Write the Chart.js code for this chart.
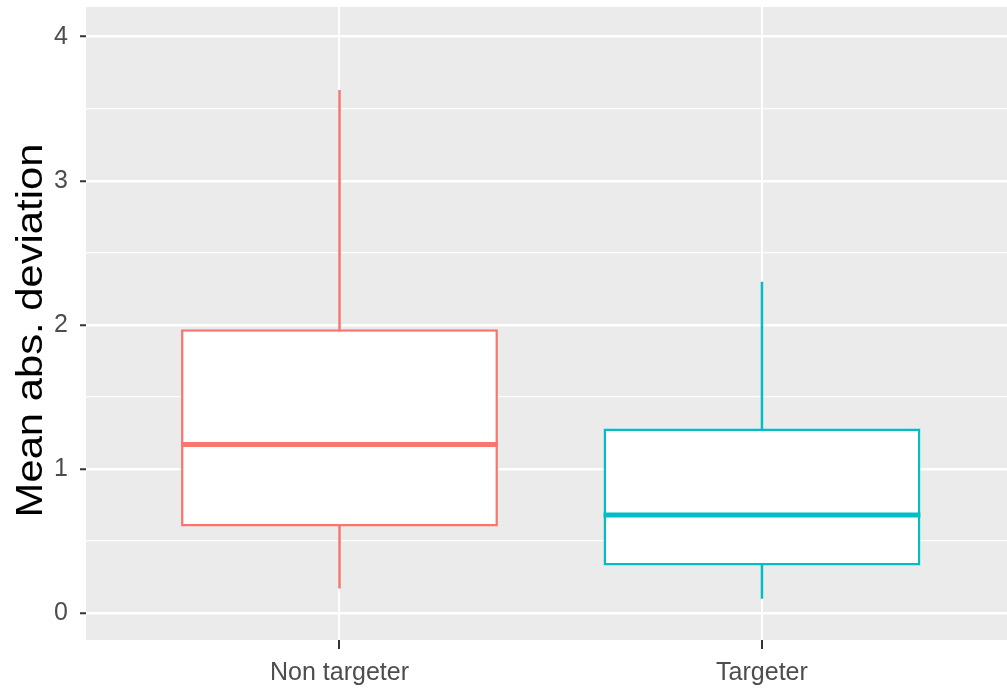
<!DOCTYPE html>
<html>
<head>
<meta charset="utf-8">
<script src="https://cdn.jsdelivr.net/npm/chart.js@4.4.1/dist/chart.umd.min.js"></script>
<style>
  html, body { margin: 0; padding: 0; background: #ffffff; }
  #wrap { width: 1007px; height: 692px; }
</style>
</head>
<body>
<div id="wrap"><canvas id="boxChart"></canvas></div>
<script>
// data
const categories = ['Non targeter', 'Targeter'];
const whiskerLow = [0.17, 0.10];
const q1 = [0.60, 0.33];
const median = [1.17, 0.68];
const q3 = [1.97, 1.28];
const whiskerHigh = [3.63, 2.30];
const yTicks = [0, 0.5, 1, 1.5, 2, 2.5, 3, 3.5, 4];
const yTitle = 'Mean abs. deviation';

const colors = ['#F8766D', '#00BFC4'];
const BOX_WIDTH = 0.75;

const positions = categories.map((c, i) => i + 1);
const datasets = [];

categories.forEach((cat, i) => {
    const x = positions[i];
    // whisker (drawn underneath the box)
    datasets.push({
        type: 'line',
        data: [{ x: x, y: whiskerLow[i] }, { x: x, y: whiskerHigh[i] }],
        borderColor: colors[i],
        borderWidth: 2.5,
        pointRadius: 0,
        order: 3
    });
    // median line
    datasets.push({
        type: 'line',
        data: [{ x: x - BOX_WIDTH / 2, y: median[i] }, { x: x + BOX_WIDTH / 2, y: median[i] }],
        borderColor: colors[i],
        borderWidth: 5,
        pointRadius: 0,
        order: 0
    });
});

// boxes
datasets.push({
    type: 'bar',
    data: positions.map((x, i) => ({ x: x, y: [q1[i], q3[i]] })),
    backgroundColor: '#ffffff',
    borderColor: colors,
    borderWidth: 2.5,
    borderSkipped: false,
    barPercentage: BOX_WIDTH,
    categoryPercentage: 1,
    order: 1
});

const panelBg = {
    id: 'panelBg',
    beforeDraw(chart) {
        const { ctx, chartArea: a } = chart;
        ctx.save();
        ctx.fillStyle = '#EBEBEB';
        ctx.fillRect(a.left, a.top, a.right - a.left, a.bottom - a.top);
        ctx.restore();
    }
};

const yTitlePlugin = {
    id: 'yTitle',
    afterDraw(chart) {
        const { ctx, chartArea: a } = chart;
        ctx.save();
        ctx.translate(42, (a.top + a.bottom) / 2 + 7);
        ctx.rotate(-Math.PI / 2);
        ctx.scale(1.16, 1);
        ctx.font = '36px "Liberation Sans", Arial, sans-serif';
        ctx.fillStyle = '#000000';
        ctx.textAlign = 'center';
        ctx.textBaseline = 'alphabetic';
        ctx.fillText(yTitle, 0, 0);
        ctx.restore();
    }
};

new Chart(document.getElementById('boxChart').getContext('2d'), {
    type: 'bar',
    data: { datasets: datasets },
    options: {
        responsive: true,
        maintainAspectRatio: false,
        animation: false,
        layout: { padding: { top: 7, left: 0, right: 0, bottom: 0 } },
        plugins: {
            legend: { display: false },
            tooltip: { enabled: false }
        },
        scales: {
            x: {
                type: 'linear',
                min: 0.4,
                max: 2.58,
                offset: false,
                afterBuildTicks: s => { s.ticks = positions.map(v => ({ value: v })); },
                afterFit: s => { s.height = 52; s.paddingLeft = 0; s.paddingRight = 0; },
                border: { display: false },
                grid: {
                    offset: false,
                    color: '#ffffff',
                    lineWidth: 2,
                    tickColor: '#333333',
                    tickLength: 9,
                    tickWidth: 2
                },
                ticks: {
                    autoSkip: false,
                    maxRotation: 0,
                    padding: 9,
                    color: '#4D4D4D',
                    font: { family: '"Liberation Sans", Arial, sans-serif', size: 25 },
                    callback: v => categories[v - 1] || ''
                }
            },
            y: {
                min: -0.187,
                max: 4.206,
                afterBuildTicks: s => { s.ticks = yTicks.map(v => ({ value: v })); },
                afterFit: s => { s.width = 86; s.paddingTop = 0; s.paddingBottom = 0; },
                border: { display: false },
                grid: {
                    color: '#ffffff',
                    lineWidth: c => Number.isInteger(c.tick.value) ? 2.5 : 1.3,
                    tickColor: c => Number.isInteger(c.tick.value) ? '#333333' : 'rgba(0,0,0,0)',
                    tickLength: 6,
                    tickWidth: 2
                },
                ticks: {
                    autoSkip: false,
                    padding: 12,
                    color: '#4D4D4D',
                    font: { family: '"Liberation Sans", Arial, sans-serif', size: 25 },
                    callback: v => Number.isInteger(v) ? v : ''
                }
            }
        }
    },
    plugins: [panelBg, yTitlePlugin]
});
</script>
</body>
</html>
